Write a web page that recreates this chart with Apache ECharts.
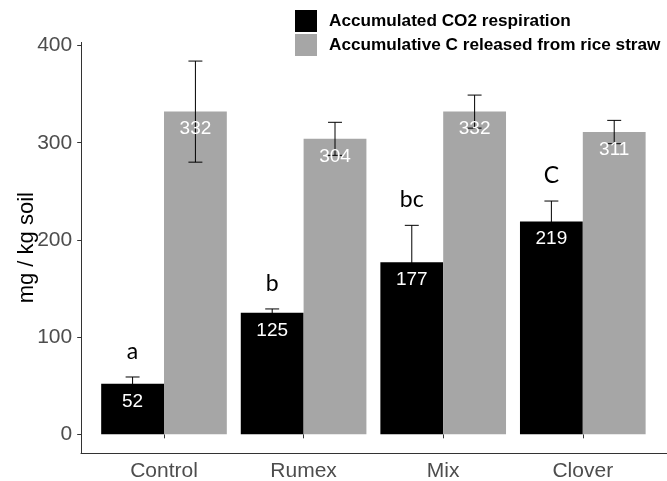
<!DOCTYPE html>
<html>
<head>
<meta charset="utf-8">
<script src="https://cdn.jsdelivr.net/npm/echarts@6/dist/echarts.min.js"></script>
<style>html,body{margin:0;padding:0;background:#fff}#c{width:667px;height:481px}</style>
</head>
<body>
<div id="c"></div>
<script>
const categories = ['Control', 'Rumex', 'Mix', 'Clover'];
const co2Values = [52, 125, 177, 219];
const co2Err = [7, 4, 38, 21];
const strawValues = [332, 304, 332, 311];
const strawErr = [52, 17, 17, 12];
const letters = ['a', 'b', 'bc', 'C'];
const yTicks = [0, 100, 200, 300, 400];
const seriesNames = ['Accumulated CO2 respiration', 'Accumulative C released from rice straw'];

const chart = echarts.init(document.getElementById('c'), null, {renderer: 'canvas'});

const errData = [];
categories.forEach((c, i) => {
  errData.push([i, co2Values[i], co2Err[i], -1, i]);
  errData.push([i, strawValues[i], strawErr[i], 1, -1]);
});

function renderErr(params, api) {
  const i = api.value(0), v = api.value(1), e = api.value(2), side = api.value(3);
  const catW = api.size([1, 0])[0];
  const x = api.coord([i, 0])[0] + side * catW * 0.9 / 4;
  const yVal = api.coord([i, v])[1];
  const yTop = api.coord([i, v + e])[1];
  const yBot = api.coord([i, v - e])[1];
  const cap = catW * 0.05;
  const st = {stroke: '#000', lineWidth: 1};
  const children = [
    {type: 'line', z2: 1, shape: {x1: x, y1: yTop, x2: x, y2: yBot}, style: st},
    {type: 'line', z2: 1, shape: {x1: x - cap, y1: yTop, x2: x + cap, y2: yTop}, style: st},
    {type: 'line', z2: 1, shape: {x1: x - cap, y1: yBot, x2: x + cap, y2: yBot}, style: st},
    {type: 'text', z2: 10, x: x, y: yVal + 8, style: {text: String(v), fill: '#fff', font: '19px "Liberation Sans"', align: 'center', verticalAlign: 'top'}}
  ];
  if (side < 0) {
    children.push({type: 'text', z2: 10, x: x, y: yTop - 14, style: {text: letters[i], fill: '#000', font: '23px Lato', align: 'center', verticalAlign: 'bottom'}});
  }
  return {type: 'group', children: children};
}

chart.setOption({
  animation: false,
  backgroundColor: '#fff',
  legend: {
    orient: 'vertical', left: 295, top: 10, padding: 0, itemWidth: 22, itemHeight: 22, itemGap: 2,
    icon: 'rect',
    textStyle: {fontSize: 17.2, fontWeight: 'bold', fontFamily: 'Liberation Sans', color: '#000', padding: [0, 0, 0, 7]},
    data: seriesNames
  },
  grid: [
    {left: 94.2, right: 14.4, top: 42.4, bottom: 28, outerBoundsMode: 'none', containLabel: false},
    {left: 81, right: 0, top: 42.4, bottom: 28, outerBoundsMode: 'none', containLabel: false}
  ],
  xAxis: [
    {type: 'category', gridIndex: 0, data: categories,
     axisLine: {show: false},
     axisTick: {show: true, alignWithLabel: true, length: 4, lineStyle: {color: '#333'}},
     axisLabel: {color: '#4d4d4d', fontSize: 21, fontFamily: 'Liberation Sans', margin: 8}},
    {type: 'value', gridIndex: 1, min: 0, max: 1,
     axisLine: {show: true, lineStyle: {color: '#333', width: 1}},
     axisTick: {show: false}, axisLabel: {show: false}, splitLine: {show: false}}
  ],
  yAxis: [
    {type: 'value', gridIndex: 0, min: -19.2, max: 403.2, offset: 13,
     name: 'mg / kg soil', nameLocation: 'middle', nameGap: 43, nameRotate: 90, nameMoveOverlap: false,
     nameTextStyle: {color: '#000', fontSize: 22, fontFamily: 'Liberation Sans'},
     axisLine: {show: true, lineStyle: {color: '#333', width: 1}},
     axisTick: {show: true, length: 4, customValues: yTicks, lineStyle: {color: '#333'}},
     axisLabel: {color: '#4d4d4d', fontSize: 21, fontFamily: 'Liberation Sans', margin: 9, customValues: yTicks},
     splitLine: {show: false}},
    {type: 'value', gridIndex: 1, show: false, min: 0, max: 1}
  ],
  series: [
    {name: seriesNames[0], type: 'bar', xAxisIndex: 0, yAxisIndex: 0, data: co2Values,
     itemStyle: {color: '#000000'}, barCategoryGap: '10%', barGap: '0%'},
    {name: seriesNames[1], type: 'bar', xAxisIndex: 0, yAxisIndex: 0, data: strawValues,
     itemStyle: {color: '#a6a6a6'}, barCategoryGap: '10%', barGap: '0%'},
    {type: 'custom', xAxisIndex: 0, yAxisIndex: 0, data: errData, renderItem: renderErr, z: 5, silent: true}
  ]
});
</script>
</body>
</html>
